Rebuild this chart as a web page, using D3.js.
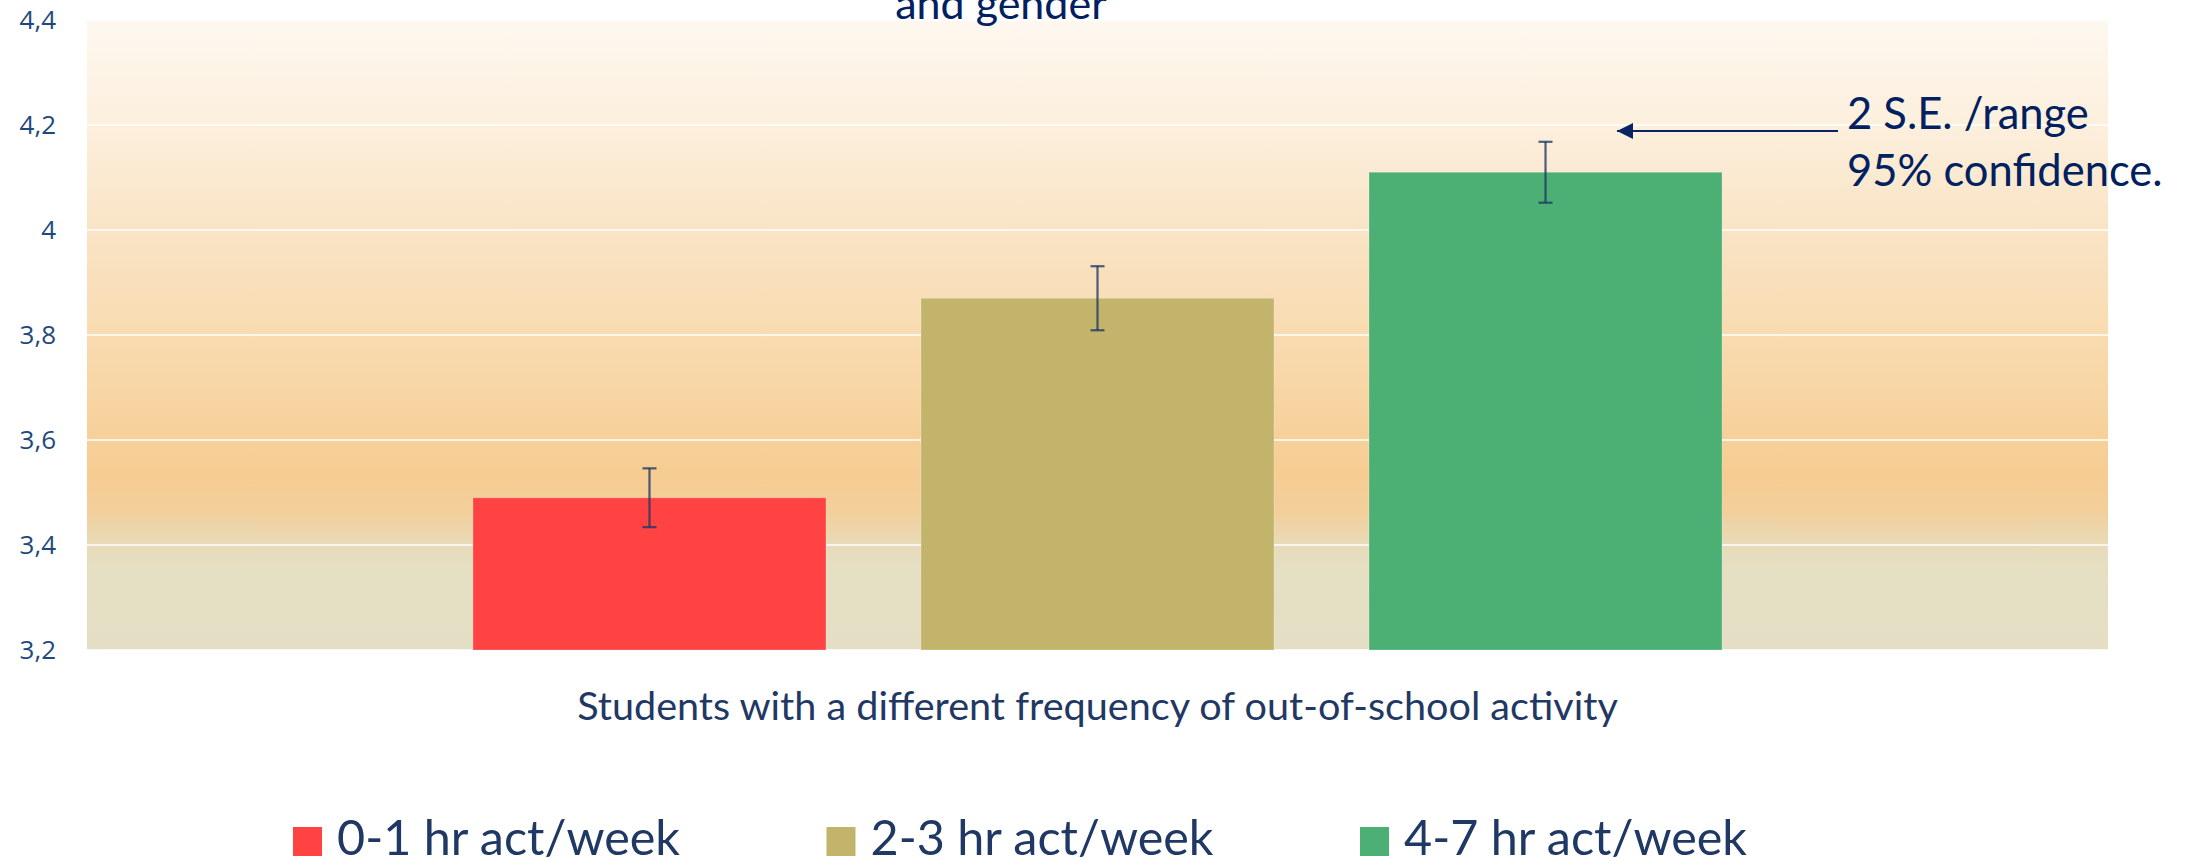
<!DOCTYPE html>
<html>
<head>
<meta charset="utf-8">
<script src="https://cdn.jsdelivr.net/npm/d3@7"></script>
<style>
  body { margin: 0; background: #fff; }
  svg { display: block; font-family: Lato, "Open Sans", sans-serif; }
</style>
</head>
<body>
<svg id="chart" width="2195" height="862"></svg>
<script>
// data
var groups = ["Students with a different frequency of out-of-school activity"];
var seriesNames = ["0-1 hr act/week", "2-3 hr act/week", "4-7 hr act/week"];
var meanValues = [3.49, 3.87, 4.11];
var errValues = [0.056, 0.061, 0.058];   // 2 S.E.
var seriesColors = ["#ff4343", "#c2b46a", "#4caf73"];
var yTicks = [3.2, 3.4, 3.6, 3.8, 4.0, 4.2, 4.4];
var titleTail = "and gender";
var noteLines = ["2 S.E. /range", "95% confidence."];

function drawChart()
{
    var svg = d3.select("#chart");
    var margin = { top: 20, left: 87 };
    var width = 2021, height = 630;

    var rows = seriesNames.map((s, i) => ({
        name: s, group: groups[0], value: meanValues[i], err: errValues[i], color: seriesColors[i]
    }));

    var defs = svg.append("defs");

    // background gradient (cream -> peach -> greyish at the bottom)
    var grad = defs.append("linearGradient")
        .attr("id", "bg")
        .attr("x1", 0).attr("y1", 0).attr("x2", 0).attr("y2", 1);
    [[0, "#fdf8f0"], [0.17, "#fcefdc"], [0.33, "#f9e4c6"], [0.55, "#f8d8a9"],
     [0.72, "#f6cc92"], [0.78, "#f2cf9b"], [0.84, "#e7dcbc"], [0.87, "#e5dfc3"], [1, "#e4dfc4"]]
        .forEach(s => grad.append("stop").attr("offset", s[0]).attr("stop-color", s[1]));

    var g = svg.append("g")
        .attr("transform", "translate(" + margin.left + "," + margin.top + ")");

    var y = d3.scaleLinear().domain([3.2, 4.4]).range([height, 0]);
    var x0 = d3.scaleBand().domain(groups).range([0, width]).paddingOuter(0.309);
    var x1 = d3.scaleBand().domain(seriesNames).range([0, x0.bandwidth()]).paddingInner(0.212);

    g.append("rect")
        .attr("width", width)
        .attr("height", height)
        .style("fill", "url(#bg)");

    // white gridlines
    g.selectAll("line.grid")
        .data(yTicks)
        .enter()
        .append("line")
        .attr("class", "grid")
        .attr("x1", 0).attr("x2", width)
        .attr("y1", d => y(d)).attr("y2", d => y(d))
        .style("stroke", "#fff")
        .style("stroke-opacity", 0.75)
        .style("stroke-width", 2);

    // y axis, labels only
    var yAxis = g.append("g")
        .call(d3.axisLeft(y).tickValues(yTicks).tickSize(0).tickPadding(31)
            .tickFormat(d => d3.format("~g")(d).replace(".", ",")));
    yAxis.select(".domain").remove();
    yAxis.selectAll("text")
        .style("font-family", "'Open Sans', sans-serif")
        .style("font-size", "26px")
        .style("fill", "#1f497d");

    var barG = g.append("g")
        .attr("transform", "translate(" + x0(groups[0]) + ",0)");

    barG.selectAll("rect.bar")
        .data(rows)
        .enter()
        .append("rect")
        .attr("class", "bar")
        .attr("x", d => x1(d.name))
        .attr("width", x1.bandwidth())
        .attr("y", d => y(d.value))
        .attr("height", d => height - y(d.value))
        .style("fill", d => d.color)
        .style("stroke", "#fff")
        .style("stroke-opacity", 0.25)
        .style("stroke-width", 1);

    // error bars
    var eb = barG.selectAll("g.err")
        .data(rows)
        .enter()
        .append("g")
        .attr("class", "err")
        .attr("transform", d => "translate(" + (x1(d.name) + x1.bandwidth() / 2) + ",0)")
        .style("stroke", "#1f3864")
        .style("stroke-opacity", 0.8)
        .style("stroke-width", 2.2);
    eb.append("line")
        .attr("y1", d => y(d.value + d.err)).attr("y2", d => y(d.value - d.err));
    eb.append("line")
        .attr("x1", -7).attr("x2", 7)
        .attr("y1", d => y(d.value + d.err)).attr("y2", d => y(d.value + d.err));
    eb.append("line")
        .attr("x1", -7).attr("x2", 7)
        .attr("y1", d => y(d.value - d.err)).attr("y2", d => y(d.value - d.err));

    // category axis title under the plot
    svg.append("text")
        .attr("x", margin.left + x0(groups[0]) + x0.bandwidth() / 2)
        .attr("y", 720)
        .style("text-anchor", "middle")
        .style("font-size", "39.6px")
        .style("fill", "#1f3864")
        .text(groups[0]);

    // what is left of the title (the rest is cut off above)
    svg.append("text")
        .attr("x", 1001)
        .attr("y", 19)
        .style("text-anchor", "middle")
        .style("font-size", "43px")
        .style("fill", "#002060")
        .text(titleTail);

    // note with arrow pointing at the green error bar
    defs.append("marker")
        .attr("id", "arrowHead")
        .attr("viewBox", "0 0 10 10")
        .attr("refX", 0).attr("refY", 5)
        .attr("markerWidth", 8.5).attr("markerHeight", 8)
        .attr("markerUnits", "strokeWidth")
        .attr("orient", "auto")
        .append("path")
        .attr("d", "M0,5 L10,0 L10,10 Z")
        .style("fill", "#0a2463");

    svg.append("line")
        .attr("x1", 1617).attr("x2", 1838)
        .attr("y1", 131).attr("y2", 131)
        .attr("marker-start", "url(#arrowHead)")
        .style("stroke", "#0a2463")
        .style("stroke-width", 2);

    svg.append("g")
        .selectAll("text")
        .data(noteLines)
        .enter()
        .append("text")
        .attr("x", 1847)
        .attr("y", (d, i) => 129 + i * 57)
        .style("font-size", "43.5px")
        .style("fill", "#002060")
        .text(d => d);

    // legend along the bottom edge
    var legend = svg.append("g")
        .selectAll("g.leg")
        .data(rows)
        .enter()
        .append("g")
        .attr("class", "leg")
        .attr("transform", (d, i) => "translate(" + (293 + i * 533.5) + ",827)");
    legend.append("rect")
        .attr("width", 29).attr("height", 29)
        .style("fill", d => d.color);
    legend.append("text")
        .attr("x", 44)
        .attr("y", 28)
        .style("font-size", "48.5px")
        .style("fill", "#1f3864")
        .text(d => d.name);
}

drawChart();
</script>
</body>
</html>
